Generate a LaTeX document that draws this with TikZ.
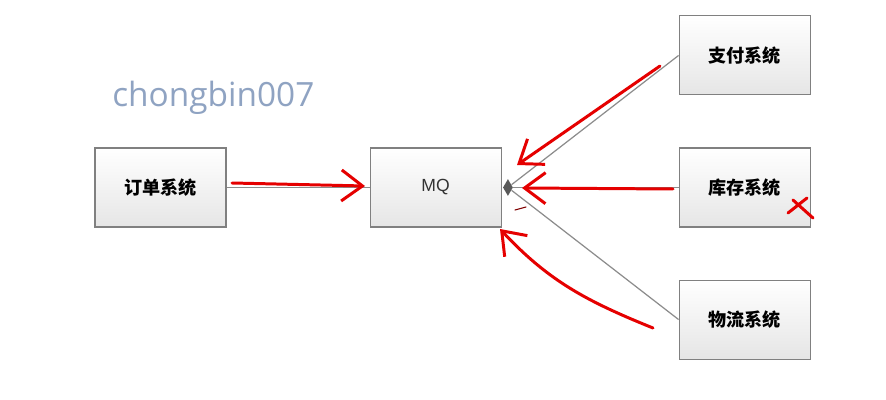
\documentclass[tikz,border=0pt]{standalone}
\usepackage{fontspec}
\newfontfamily\cjk{Noto Sans CJK SC}
\newfontfamily\marksf{Open Sans}
\newfontfamily\boxsf{Liberation Sans}
\usepackage{tikz}
\usetikzlibrary{positioning,arrows.meta,shapes.geometric}
\definecolor{markblue}{HTML}{8FA3C2}

\begin{document}
\begin{tikzpicture}[node distance=1.04cm,
  sys/.style={draw=black!50, line width=0.6pt, top color=white, bottom color=black!10,
    minimum width=2.62cm, minimum height=1.58cm, inner sep=0pt, font=\cjk\bfseries\fontsize{10.3}{12}\selectfont},
  link/.style={draw=black!45, line width=0.7pt},
  pen/.style={draw=red!90!black, line width=1.7pt, line cap=round, line join=round},
  penarrow/.style={pen, -{Straight Barb[length=0.42cm, width=0.62cm, line width=1.7pt]}}]
  \useasboundingbox (0,0) rectangle (17.72,-8);
  % the five systems
  \node[sys] (order) at (3.21,-3.75) {订单系统};
  \node[sys, right=2.86cm of order, font=\boxsf\fontsize{10}{12}\selectfont, text=black!80] (mq) {MQ};
  \node[sys, right=3.54cm of mq] (stock) {库存系统};
  \node[sys, above=of stock] (pay) {支付系统};
  \node[sys, below=of stock] (ship) {物流系统};
  \node[anchor=west, text=markblue, font=\marksf\fontsize{19}{21}\selectfont, inner sep=0pt] (mark) at (2.24,-1.96) {chongbin007};
  \node[diamond, fill=black!65, inner sep=0pt, minimum width=0.2cm, minimum height=0.34cm, right=0.02cm of mq.east, anchor=west] (hub) {};
  \draw[link] (order) -- (mq);
  \draw[link] (hub) -- (pay.west);
  \draw[link] (hub) -- (stock.west);
  \draw[link] (hub) -- (ship.west);
  % hand drawn red strokes
  \coordinate (s1) at (4.64,-3.66);  \coordinate (e1) at (7.3,-3.72);
  \coordinate (s2) at (13.2,-1.32);  \coordinate (e2) at (10.34,-3.3);
  \coordinate (s3) at (13.46,-3.78); \coordinate (e3) at (10.44,-3.76);
  \coordinate (s4) at (13.06,-6.56); \coordinate (e4) at (10.0,-4.58);
  \draw[penarrow] (s1) -- (e1);
  \draw[penarrow] (s2) -- (e2);
  \draw[penarrow] (s3) -- (e3);
  \draw[penarrow] (s4) to[out=158, in=-47] (e4);
  \draw[pen] (15.86,-4.0) -- (16.26,-4.36) (15.76,-4.26) -- (16.14,-3.96);
  \draw[draw=red!50!black, line width=0.6pt, line cap=round] (10.3,-4.2) -- (10.52,-4.14);
\end{tikzpicture}
\end{document}
